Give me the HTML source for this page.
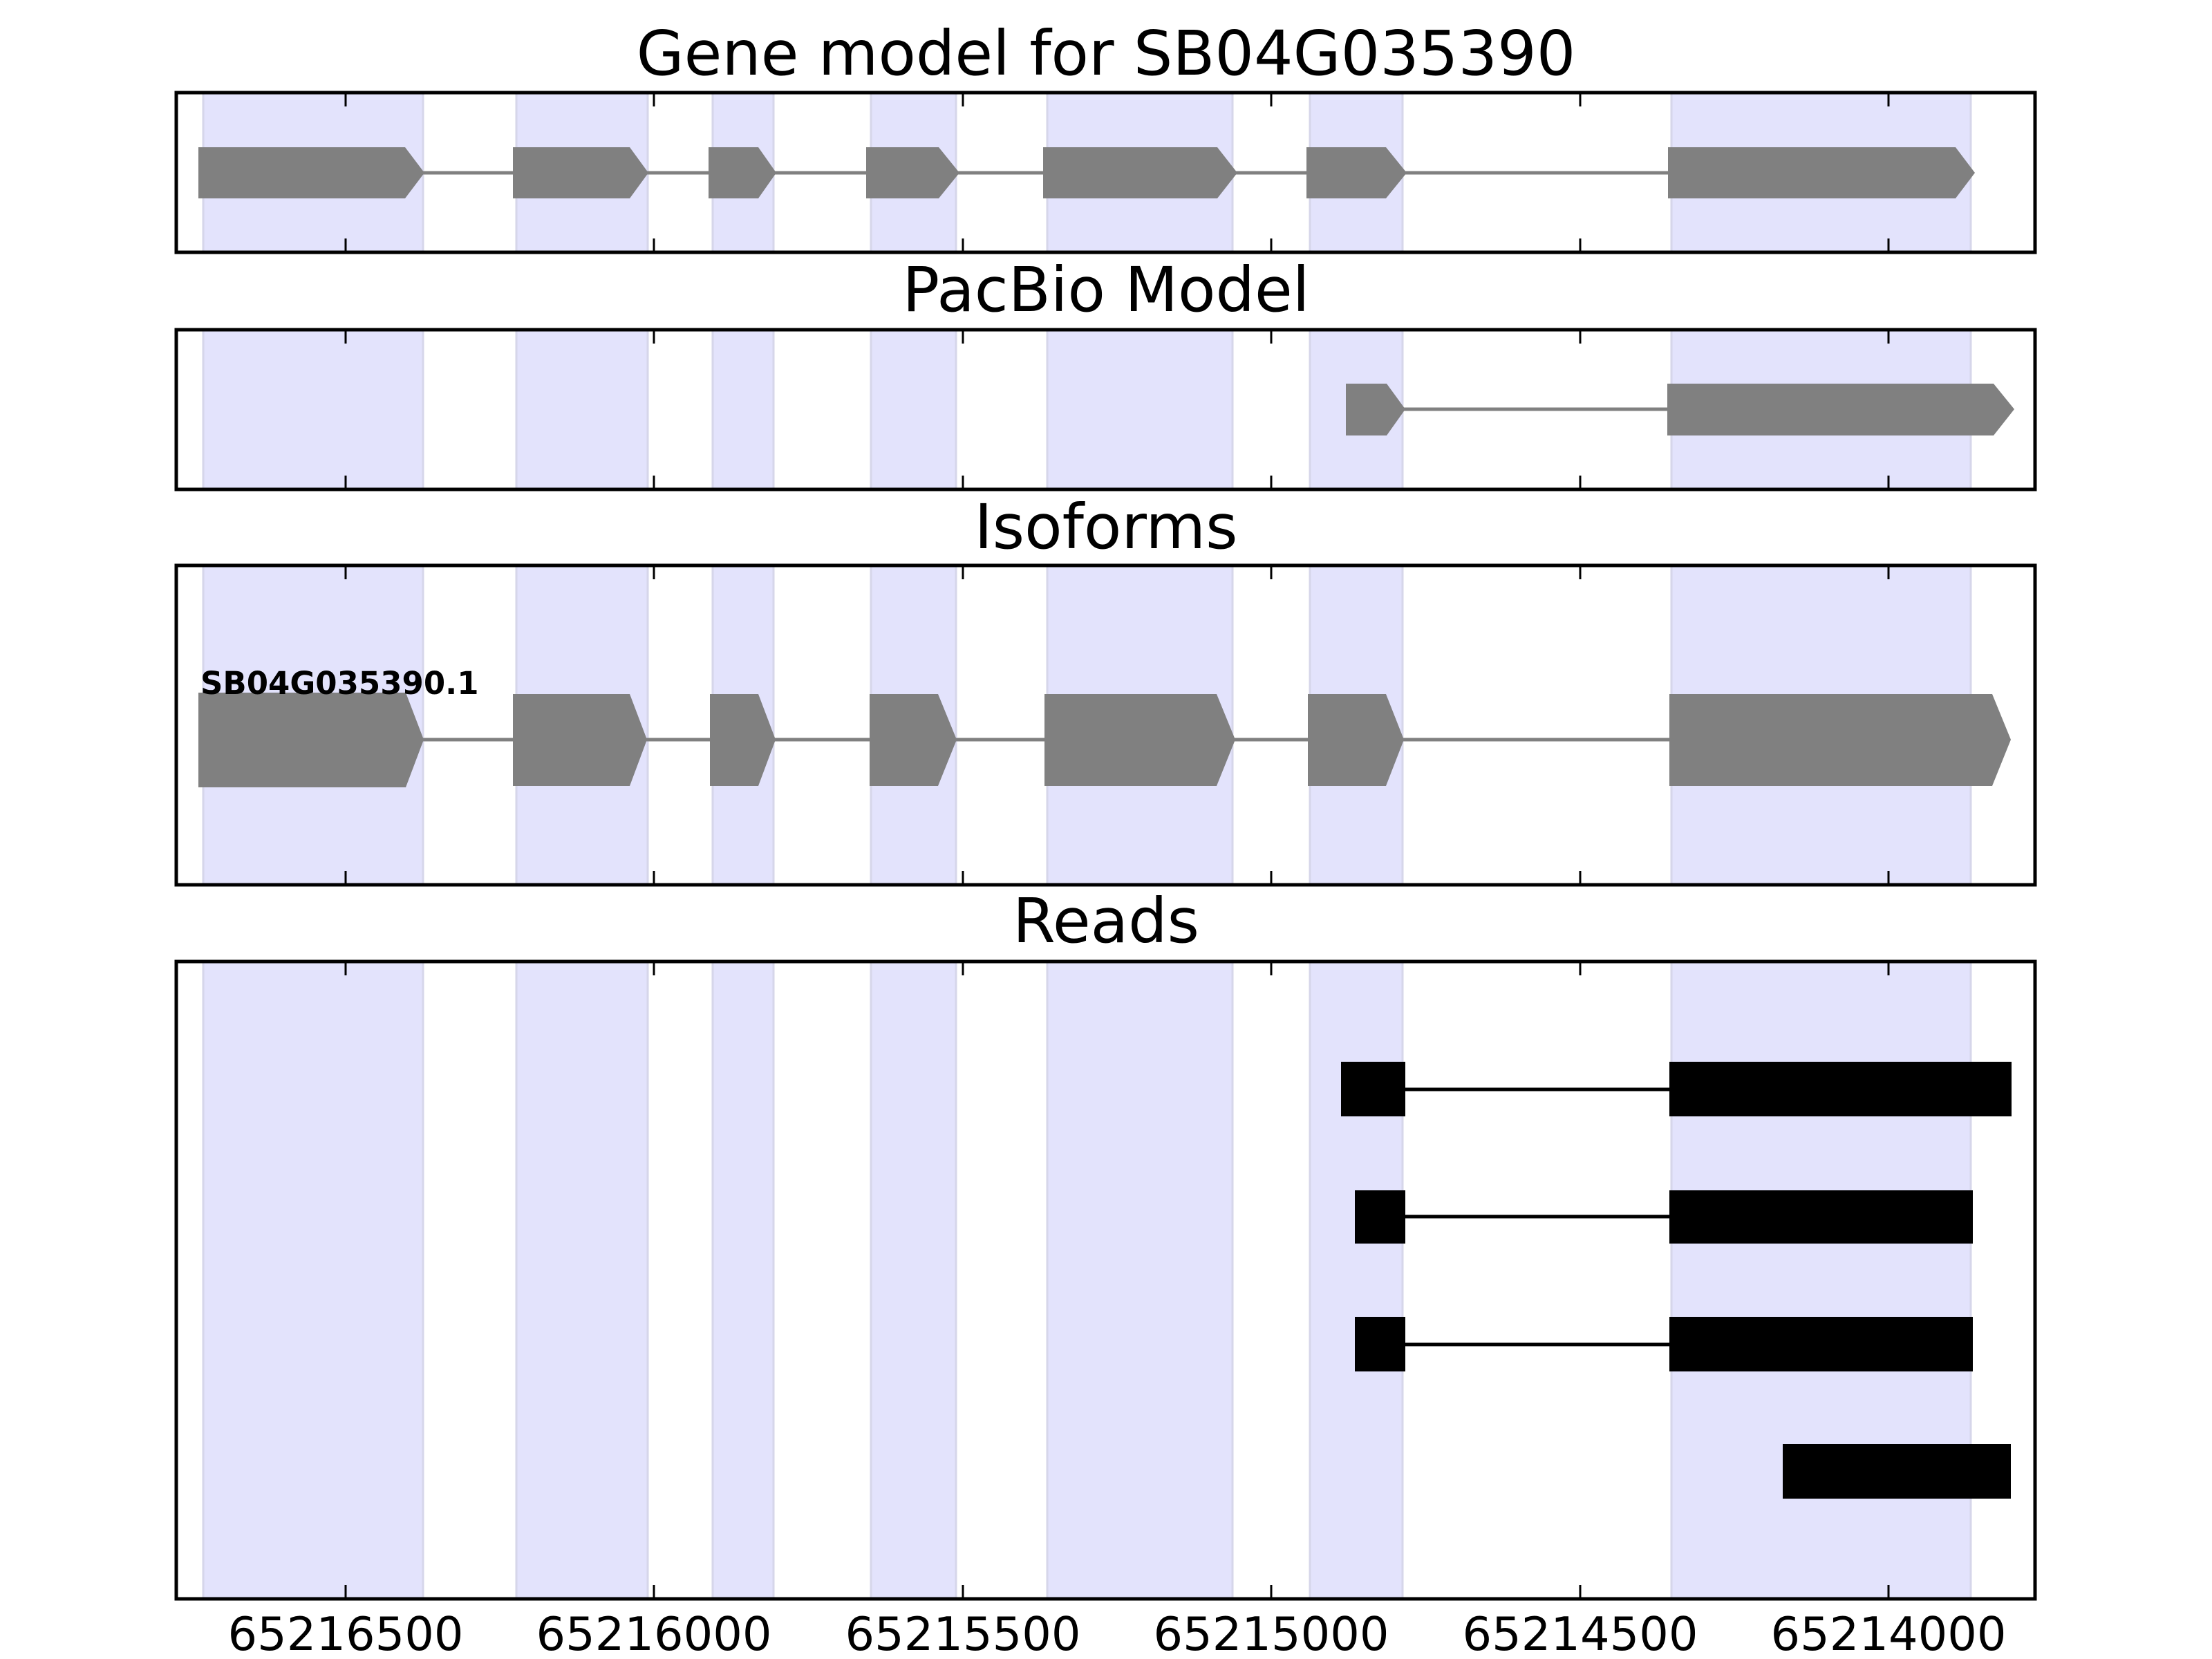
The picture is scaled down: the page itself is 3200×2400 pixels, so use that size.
<!DOCTYPE html>
<html><head><meta charset="utf-8"><style>html,body{margin:0;padding:0;background:#fff;width:3200px;height:2400px;overflow:hidden}svg{display:block}</style></head>
<body>
<svg width="3200" height="2400" viewBox="0 0 3200 2400" xmlns="http://www.w3.org/2000/svg" font-family="'DejaVu Sans','Liberation Sans',sans-serif">
<defs>
<g id="b1" fill="#e3e3fc" stroke="#d6d6ea" stroke-width="3">
<rect x="294" y="0" width="318" height="1"/>
<rect x="747" y="0" width="190" height="1"/>
<rect x="1031" y="0" width="88" height="1"/>
<rect x="1260" y="0" width="123" height="1"/>
<rect x="1515" y="0" width="268" height="1"/>
<rect x="1895" y="0" width="134" height="1"/>
<rect x="2418" y="0" width="433" height="1"/>
</g>
</defs>
<g fill="#e3e3fc" stroke="#d6d6ea" stroke-width="3">
<path d="M294 134h318v231h-318zM747 134h190v231h-190zM1031 134h88v231h-88zM1260 134h123v231h-123zM1515 134h268v231h-268zM1895 134h134v231h-134zM2418 134h433v231h-433z"/>
<path d="M294 477h318v231h-318zM747 477h190v231h-190zM1031 477h88v231h-88zM1260 477h123v231h-123zM1515 477h268v231h-268zM1895 477h134v231h-134zM2418 477h433v231h-433z"/>
<path d="M294 818h318v462h-318zM747 818h190v462h-190zM1031 818h88v462h-88zM1260 818h123v462h-123zM1515 818h268v462h-268zM1895 818h134v462h-134zM2418 818h433v462h-433z"/>
<path d="M294 1391h318v922h-318zM747 1391h190v922h-190zM1031 1391h88v922h-88zM1260 1391h123v922h-123zM1515 1391h268v922h-268zM1895 1391h134v922h-134zM2418 1391h433v922h-433z"/>
</g>
<g font-size="89" text-anchor="middle" fill="#000">
<text x="1600" y="108">Gene model for SB04G035390</text>
<text x="1600" y="450">PacBio Model</text>
<text x="1600" y="793">Isoforms</text>
<text x="1600" y="1363">Reads</text>
</g>
<line x1="290" y1="250" x2="2850" y2="250" stroke="#808080" stroke-width="5"/>
<g fill="#808080">
<polygon points="287,213 586,213 614,250 586,287 287,287"/>
<polygon points="742,213 911,213 938,250 911,287 742,287"/>
<polygon points="1025,213 1097,213 1123,250 1097,287 1025,287"/>
<polygon points="1253,213 1358,213 1388,250 1358,287 1253,287"/>
<polygon points="1509,213 1761,213 1790,250 1761,287 1509,287"/>
<polygon points="1890,213 2005,213 2035,250 2005,287 1890,287"/>
<polygon points="2413,213 2829,213 2857,250 2829,287 2413,287"/>
</g>
<line x1="2000" y1="592" x2="2420" y2="592" stroke="#808080" stroke-width="5"/>
<g fill="#808080">
<polygon points="1947,555 2006,555 2033,592 2006,630 1947,630"/>
<polygon points="2412,555 2884,555 2914,592 2884,630 2412,630"/>
</g>
<line x1="590" y1="1070" x2="2850" y2="1070" stroke="#808080" stroke-width="5"/>
<g fill="#808080">
<polygon points="287,1002 587,1002 613,1070 587,1139 287,1139"/>
<polygon points="742,1004 911,1004 936,1070 911,1137 742,1137"/>
<polygon points="1027,1004 1097,1004 1122,1070 1097,1137 1027,1137"/>
<polygon points="1258,1004 1357,1004 1384,1070 1357,1137 1258,1137"/>
<polygon points="1511,1004 1760,1004 1787,1070 1760,1137 1511,1137"/>
<polygon points="1892,1004 2005,1004 2031,1070 2005,1137 1892,1137"/>
<polygon points="2415,1004 2882,1004 2909,1070 2882,1137 2415,1137"/>
</g>
<text x="290" y="1004" font-size="45" font-weight="bold" fill="#000">SB04G035390.1</text>
<g stroke="#000" stroke-width="5">
<line x1="2033" y1="1576" x2="2415" y2="1576"/>
<line x1="2033" y1="1760" x2="2415" y2="1760"/>
<line x1="2033" y1="1945" x2="2415" y2="1945"/>
</g>
<g fill="#000">
<rect x="1940" y="1536" width="93" height="79"/>
<rect x="2415" y="1536" width="495" height="79"/>
<rect x="1960" y="1722" width="73" height="77"/>
<rect x="2415" y="1722" width="439" height="77"/>
<rect x="1960" y="1905" width="73" height="79"/>
<rect x="2415" y="1905" width="439" height="79"/>
<rect x="2579" y="2089" width="330" height="79"/>
</g>
<g fill="none" stroke="#000" stroke-width="5">
<rect x="255" y="134" width="2689" height="231"/>
<rect x="255" y="477" width="2689" height="231"/>
<rect x="255" y="818" width="2689" height="462"/>
<rect x="255" y="1391" width="2689" height="922"/>
</g>
<g stroke="#000" stroke-width="3">
<path d="M500 134v20M946 134v20M1393 134v20M1839 134v20M2286 134v20M2732 134v20 M500 365v-20M946 365v-20M1393 365v-20M1839 365v-20M2286 365v-20M2732 365v-20"/>
<path d="M500 477v20M946 477v20M1393 477v20M1839 477v20M2286 477v20M2732 477v20 M500 708v-20M946 708v-20M1393 708v-20M1839 708v-20M2286 708v-20M2732 708v-20"/>
<path d="M500 818v20M946 818v20M1393 818v20M1839 818v20M2286 818v20M2732 818v20 M500 1280v-20M946 1280v-20M1393 1280v-20M1839 1280v-20M2286 1280v-20M2732 1280v-20"/>
<path d="M500 1391v20M946 1391v20M1393 1391v20M1839 1391v20M2286 1391v20M2732 1391v20 M500 2313v-20M946 2313v-20M1393 2313v-20M1839 2313v-20M2286 2313v-20M2732 2313v-20"/>
</g>
<g font-size="67" text-anchor="middle" fill="#000">
<text x="500" y="2387">65216500</text>
<text x="946" y="2387">65216000</text>
<text x="1393" y="2387">65215500</text>
<text x="1839" y="2387">65215000</text>
<text x="2286" y="2387">65214500</text>
<text x="2732" y="2387">65214000</text>
</g>
</svg>
</body></html>
